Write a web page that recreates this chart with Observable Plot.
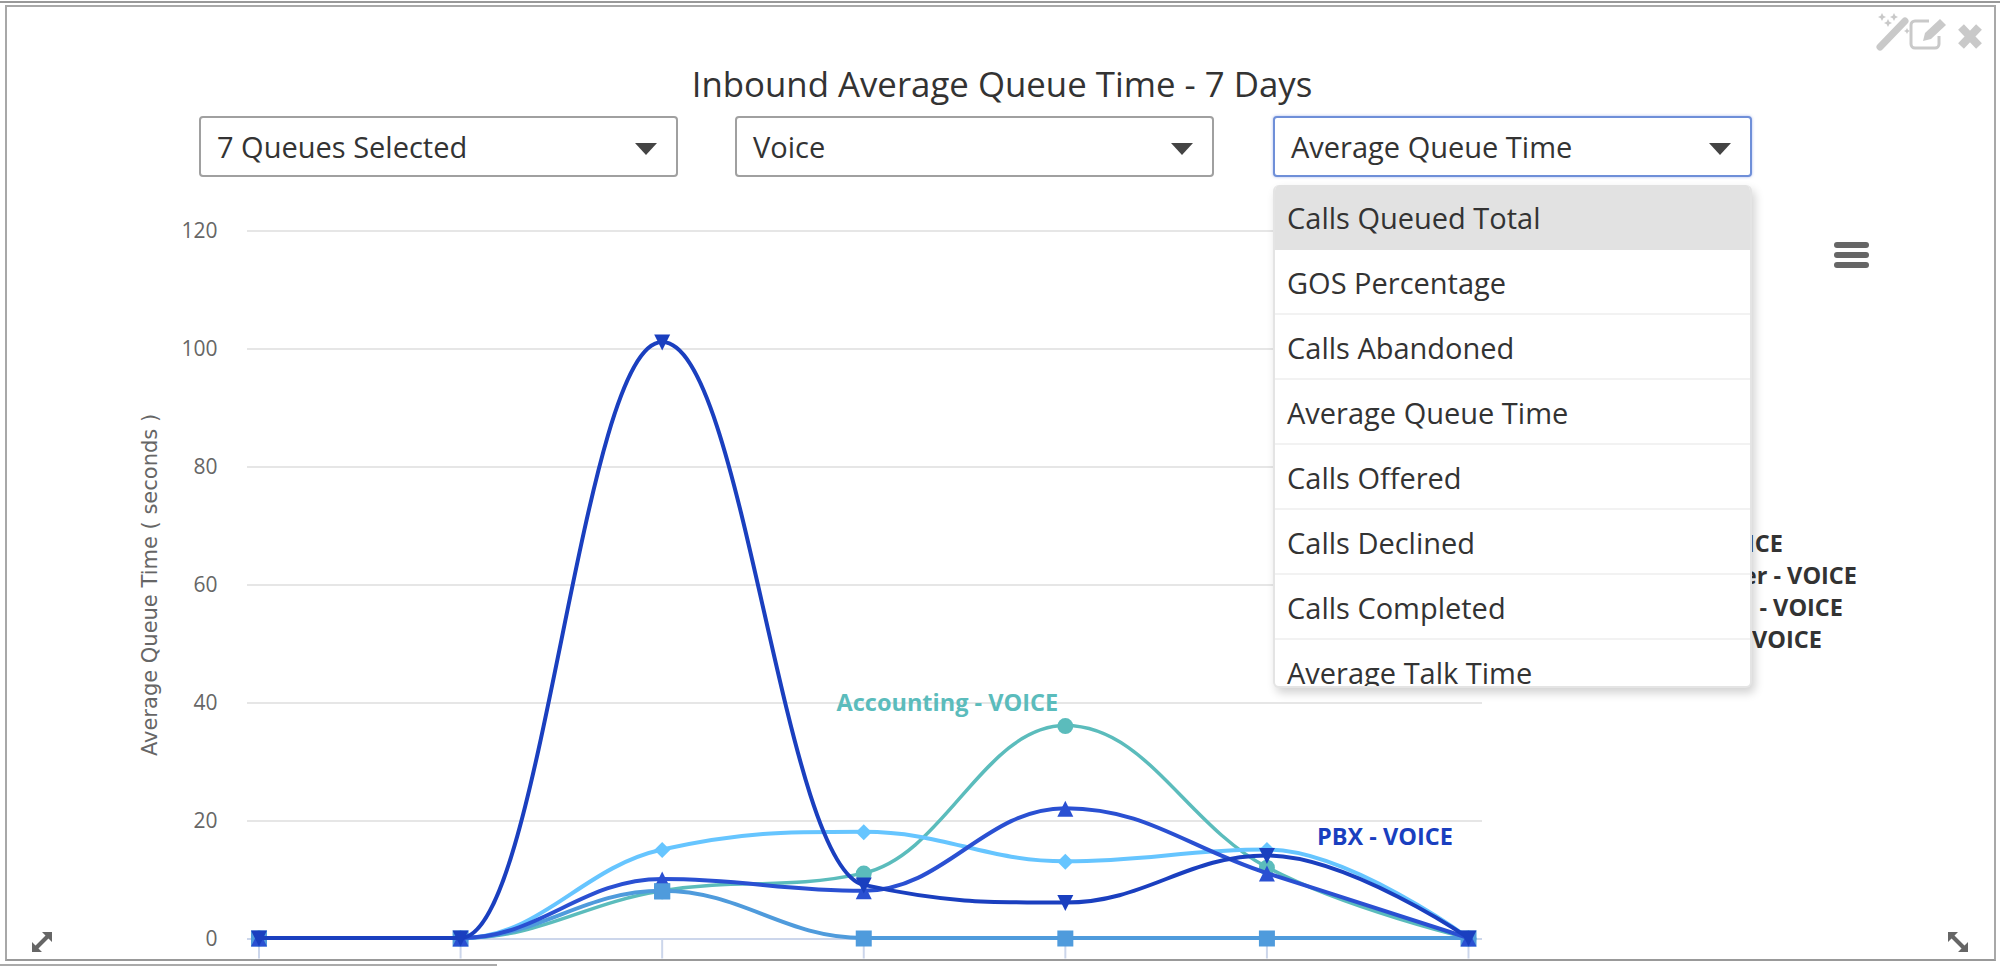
<!DOCTYPE html>
<html>
<head>
<meta charset="utf-8">
<script src="https://cdn.jsdelivr.net/npm/d3@7"></script>
<script src="https://cdn.jsdelivr.net/npm/@observablehq/plot@0.6"></script>
<style>
html,body{margin:0;padding:0;background:#fff;overflow:hidden}
#page{position:relative;width:2000px;height:966px;overflow:hidden;font-family:"Open Sans",sans-serif;color:#333;background:#fff}
#page svg.plot{position:absolute;left:0;top:0}
.abs{position:absolute;box-sizing:border-box}
.frame{left:5px;top:5px;width:1991px;height:956px;border:2px solid #a8a8a8;border-bottom-color:#999}
.top1{left:0;top:1px;width:2000px;height:2px;background:#999}
.bot1{left:0;top:964px;width:497px;height:2px;background:#aaa}
#title{left:0;width:2004px;top:61px;height:46px;line-height:46px;text-align:center;font-size:34.8px;color:#333}
.select{top:116px;height:61px;width:479px;border:2px solid #a0a0a0;border-radius:4px;background:#fff;font-size:29px;line-height:58px;padding-left:16px}
.select.on{border-color:#6f8fd8;box-shadow:0 0 3px rgba(100,130,220,.55)}
.caret{position:absolute;right:19px;top:25px;width:0;height:0;border-left:11px solid transparent;border-right:11px solid transparent;border-top:12px solid #444}
#menu{left:1273px;top:185px;width:479px;height:503px;background:#fff;border:2px solid #e4e4e4;border-top:0;border-radius:6px;box-shadow:3px 5px 10px rgba(0,0,0,.18);overflow:hidden}
.item{height:65px;line-height:66px;font-size:29px;padding-left:12px;border-bottom:2px solid #f2f2f2;box-sizing:border-box;color:#333}
.item.sel{background:#e2e2e2;border-bottom-color:#e2e2e2}
.legend{font-weight:700;font-size:23.5px;color:#333;text-align:right;height:30px;line-height:30px;white-space:nowrap}
</style>
</head>
<body>
<div id="page"></div>
<script>
const days = [0, 1, 2, 3, 4, 5, 6];
const accounting = [0, 0, 8, 11, 36, 12, 0];
const lightQueue = [0, 0, 15, 18, 13, 15, 0];
const squareQueue = [0, 0, 8, 0, 0, 0, 0];
const triangleQueue = [0, 0, 10, 8, 22, 11, 0];
const pbx = [0, 0, 101, 9, 6, 14, 0];
const yTicks = [0, 20, 40, 60, 80, 100, 120];
const menuItems = ["Calls Queued Total", "GOS Percentage", "Calls Abandoned", "Average Queue Time", "Calls Offered", "Calls Declined", "Calls Completed", "Average Talk Time"];
const selects = ["7 Queues Selected", "Voice", "Average Queue Time"];
const hiddenLegend = ["ICE", "er - VOICE", "- VOICE", "VOICE"];

const shapes = {
  circle: {draw(c, s){const r=Math.sqrt(s/Math.PI);c.moveTo(r,0);c.arc(0,0,r,0,2*Math.PI);}},
  diamond: {draw(c, s){const r=Math.sqrt(s/Math.PI);c.moveTo(0,-r);c.lineTo(r,0);c.lineTo(0,r);c.lineTo(-r,0);c.closePath();}},
  square: {draw(c, s){const r=Math.sqrt(s/Math.PI);c.rect(-r,-r,2*r,2*r);}},
  up: {draw(c, s){const r=Math.sqrt(s/Math.PI);c.moveTo(0,-r);c.lineTo(r,r);c.lineTo(-r,r);c.closePath();}},
  down: {draw(c, s){const r=Math.sqrt(s/Math.PI);c.moveTo(0,r);c.lineTo(r,-r);c.lineTo(-r,-r);c.closePath();}}
};

// Highcharts-style spline, used as a d3 curve factory
function splineCurve(context){
  let pts = [];
  return {
    areaStart(){}, areaEnd(){},
    lineStart(){pts = [];},
    point(x,y){pts.push([+x,+y]);},
    lineEnd(){
      const n = pts.length, s = 1.5, d = 2.5;
      const L = [], R = [];
      for (let i=1;i<n-1;i++){
        const [x,y]=pts[i],[px,py]=pts[i-1],[nx,ny]=pts[i+1];
        const lx=(s*x+px)/d, rx=(s*x+nx)/d;
        let ly=(s*y+py)/d, ry=(s*y+ny)/d;
        const cor=(ry-ly)*(rx-x)/(rx-lx)+y-ry;
        ly+=cor; ry+=cor;
        if (ly>py&&ly>y){ly=Math.max(py,y);ry=2*y-ly;}
        else if (ly<py&&ly<y){ly=Math.min(py,y);ry=2*y-ly;}
        if (ry>ny&&ry>y){ry=Math.max(ny,y);ly=2*y-ry;}
        else if (ry<ny&&ry<y){ry=Math.min(ny,y);ly=2*y-ry;}
        L[i]=[lx,ly];R[i]=[rx,ry];
      }
      if (!n) return;
      context.moveTo(pts[0][0],pts[0][1]);
      for (let i=1;i<n;i++){
        const a=R[i-1]||pts[i-1], b=L[i]||pts[i];
        context.bezierCurveTo(a[0],a[1],b[0],b[1],pts[i][0],pts[i][1]);
      }
    }
  };
}

const rows = v => days.map((d,i)=>({day:d,value:v[i]}));
const dots = (data,color,shape) => Plot.dot(data,{x:"day",y:"value",fill:color,stroke:"none",r:8,symbol:shape,dy:-0.5});
const seriesMarks = (values,color,shape,width) => [
  Plot.line(rows(values),{x:"day",y:"value",stroke:color,strokeWidth:width,curve:splineCurve,dy:-1}),
  dots(rows(values),color,shape)
];

const chart = Plot.plot({
  width:2000,height:966,
  marginTop:230.5,marginBottom:27.5,marginLeft:247,marginRight:518,
  style:{background:"transparent",fontFamily:"'Open Sans',sans-serif"},
  x:{domain:[0,6],range:[258.5,1468]},
  y:{domain:[0,120]},
  marks:[
    Plot.gridY(yTicks,{stroke:"#e6e6e6",strokeOpacity:1,strokeWidth:2}),
    Plot.axisY(yTicks,{anchor:"left",tickSize:0,tickPadding:30,fontSize:21,color:"#666",label:null}),
    Plot.ruleY([0],{stroke:"#ccd6eb",strokeWidth:2}),
    Plot.axisX(days,{anchor:"bottom",tickSize:20,tickFormat:()=>"",stroke:"#ccd6eb",strokeWidth:2,label:null}),
    Plot.text(["Average Queue Time ( seconds )"],{frameAnchor:"left",textAnchor:"middle",rotate:-90,dx:-97,fontSize:21,fontFamily:"DejaVu Sans",fill:"#666",text:d=>d}),
    ...seriesMarks(accounting,"#5bbcbc",shapes.circle,3.5),
    ...seriesMarks(lightQueue,"#66c5ff",shapes.diamond,4),
    ...seriesMarks(squareQueue,"#4f9bdc",shapes.square,4),
    ...seriesMarks(triangleQueue,"#2a50d2",shapes.up,4),
    dots(rows(squareQueue).filter(d=>d.value>0),"#4f9bdc",shapes.square),
    ...seriesMarks(pbx,"#1a3fbf",shapes.down,4),
    Plot.text(["Accounting - VOICE"],{x:()=>4,y:()=>36,text:d=>d,dx:-118,dy:-23,fontSize:23.5,fontWeight:700,fill:"#5bbcbc"}),
    Plot.text(["PBX - VOICE"],{x:()=>5,y:()=>14,text:d=>d,dx:118,dy:-19,fontSize:23.5,fontWeight:700,fill:"#1a3fbf"})
  ]
});
const page = document.getElementById("page");
page.appendChild(chart);

function el(cls,style,html){const e=document.createElement("div");e.className="abs "+cls;if(style)e.style.cssText=style;if(html!=null)e.innerHTML=html;page.appendChild(e);return e;}
el("top1");el("frame");el("bot1");
const t=el("","");t.id="title";t.textContent="Inbound Average Queue Time - 7 Days";

const legendRight=[1783,1857,1843,1822], legendTop=[528,560,592,624];
hiddenLegend.forEach((s,i)=>{el("legend",`right:${2000-legendRight[i]}px;top:${legendTop[i]}px`,s);});

[199,735,1273].forEach((x,i)=>{el("select"+(i==2?" on":""),`left:${x}px`,selects[i]+'<span class="caret"></span>');});
const m=el("","");m.id="menu";
menuItems.forEach((s,i)=>{const d=document.createElement("div");d.className="item"+(i==0?" sel":"");d.textContent=s;m.appendChild(d);});

const ic=(left,top,w,h,inner)=>el("",`left:${left}px;top:${top}px;width:${w}px;height:${h}px`,`<svg width="${w}" height="${h}" viewBox="0 0 ${w} ${h}" style="display:block">${inner}</svg>`);
const G="#c9c9c9";
const spark=(x,y,r)=>`<path d="M${x} ${y-r}L${x+r/3} ${y-r/3}L${x+r} ${y}L${x+r/3} ${y+r/3}L${x} ${y+r}L${x-r/3} ${y+r/3}L${x-r} ${y}L${x-r/3} ${y-r/3}Z" fill="${G}"/>`;
// toolbar icons
ic(1875,12,38,40,`<path d="M5 35L30 9" stroke="${G}" stroke-width="7" stroke-linecap="round"/>${spark(7,5,4)}${spark(13,11,4)}${spark(19,5,4)}${spark(32,19,3)}`);
ic(1908,15,40,36,`<path d="M21 6H7a4 4 0 0 0-4 4v19a4 4 0 0 0 4 4h20a4 4 0 0 0 4-4V21" fill="none" stroke="${G}" stroke-width="3"/><path d="M15 26l2-8L32 4l6 6L23 24z" fill="${G}"/>`);
ic(1957,23,26,27,`<path d="M4 4L22 23M22 4L4 23" stroke="${G}" stroke-width="8"/>`);
// hamburger
ic(1834,242,35,26,'<rect x="0" y="0" width="35" height="6" rx="3" fill="#666"/><rect x="0" y="10" width="35" height="6" rx="3" fill="#666"/><rect x="0" y="20" width="35" height="6" rx="3" fill="#666"/>');
// resize arrows
const arrow='<path d="M4 20L20 4" stroke="#666" stroke-width="4"/><path d="M12 2h10v10zM2 12v10h10z" fill="#666"/>';
ic(30,930,24,24,arrow);
ic(1946,930,24,24,`<g transform="translate(24,0) scale(-1,1)">${arrow}</g>`);
</script>
</body>
</html>
